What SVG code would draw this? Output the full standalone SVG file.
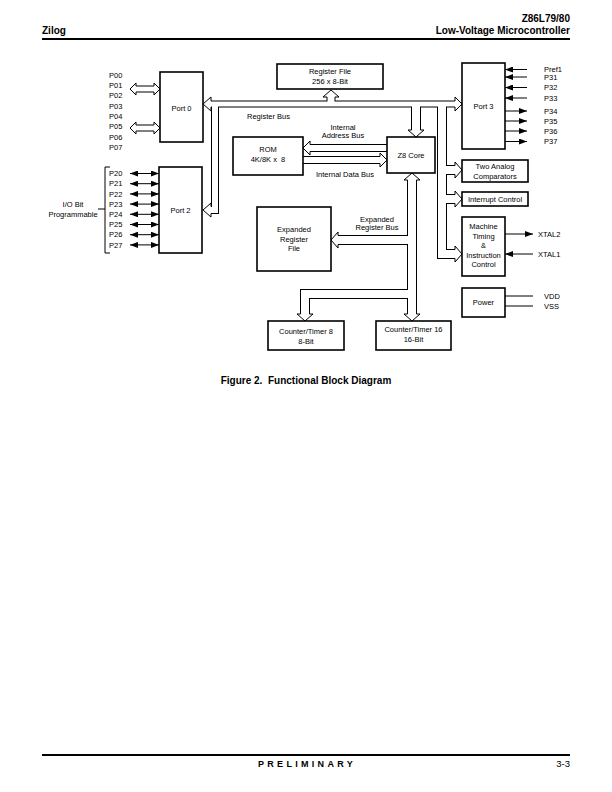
<svg xmlns="http://www.w3.org/2000/svg" width="612" height="792" viewBox="0 0 612 792">
<style>
.t{font-family:"Liberation Sans",Arial,sans-serif;font-size:7.5px;fill:#000}
.m{text-anchor:middle}
.hb{font-family:"Liberation Sans",Arial,sans-serif;font-weight:bold;fill:#000}
.box{fill:#fff;stroke:#000;stroke-width:1.6}
.bk{fill:none;stroke:#000;stroke-linecap:butt;stroke-linejoin:miter}
.wh{fill:none;stroke:#fff;stroke-linecap:butt;stroke-linejoin:miter}
.hd{fill:#fff;stroke:#000;stroke-width:1;stroke-linejoin:miter}
.ln{fill:none;stroke:#000;stroke-width:1}
.ah{fill:#000}
</style>
<defs>
<marker id="fa" viewBox="0 0 8 6" refX="8" refY="3" markerWidth="8" markerHeight="6" markerUnits="userSpaceOnUse" orient="auto-start-reverse"><path d="M0,0 L8,3 L0,6 Z" class="ah"/></marker>
</defs>

<!-- header / footer -->
<g id="header">
<text class="hb" x="42" y="34" font-size="10">Zilog</text>
<text class="hb" x="570" y="22" font-size="10" text-anchor="end">Z86L79/80</text>
<text class="hb" x="570" y="34" font-size="10" text-anchor="end">Low-Voltage Microcontroller</text>
<line x1="42" y1="39" x2="570" y2="39" stroke="#000" stroke-width="2"/>
</g>
<g id="footer">
<line x1="42" y1="755" x2="570" y2="755" stroke="#000" stroke-width="2"/>
<text class="hb" x="258" y="767" font-size="9" letter-spacing="3.3">PRELIMINARY</text>
<text x="570" y="767" style="font-family:'Liberation Sans',Arial,sans-serif;font-size:9.5px;fill:#000" text-anchor="end">3-3</text>
</g>
<text class="hb" x="306" y="384" font-size="10" text-anchor="middle">Figure 2.&#160; Functional Block Diagram</text>

<!-- connectors -->
<g id="connectors">
<g class="bk">
<path d="M211,104 H455" stroke-width="7"/>
<path d="M215,104 V210 H211" stroke-width="8"/>
<path d="M331,104 V97" stroke-width="9"/>
<path d="M416,104 V130" stroke-width="10"/>
<path d="M442,104 V254 H455" stroke-width="10"/>
<path d="M442,170 H455" stroke-width="10"/>
<path d="M442,199 H455" stroke-width="10"/>
<path d="M412,180 V314" stroke-width="10"/>
<path d="M412,240 H338" stroke-width="10"/>
<path d="M412,294 H305 V314" stroke-width="10"/>
<path d="M387,148 H310" stroke-width="8"/>
<path d="M303,160 H380" stroke-width="8"/>
<path d="M136,89 H154" stroke-width="7"/>
<path d="M136,128 H154" stroke-width="7"/>
</g>
<g class="wh">
<path d="M211,104 H455" stroke-width="5"/>
<path d="M215,104 V210 H211" stroke-width="6"/>
<path d="M331,104 V97" stroke-width="7"/>
<path d="M416,104 V130" stroke-width="8"/>
<path d="M442,104 V254 H455" stroke-width="8"/>
<path d="M442,170 H455" stroke-width="8"/>
<path d="M442,199 H455" stroke-width="8"/>
<path d="M412,180 V314" stroke-width="8"/>
<path d="M412,240 H338" stroke-width="8"/>
<path d="M412,294 H305 V314" stroke-width="8"/>
<path d="M387,148 H310" stroke-width="6"/>
<path d="M303,160 H380" stroke-width="6"/>
<path d="M136,89 H154" stroke-width="5"/>
<path d="M136,128 H154" stroke-width="5"/>
</g>
<g class="hd">
<polyline points="211,101 211,97 203,104 211,111 211,107"/>
<polyline points="455,101 455,97 462,104 455,111 455,107"/>
<polyline points="211,206.5 211,203 203,210 211,217 211,213.5"/>
<polyline points="327,97 323,97 331,90 339,97 335,97"/>
<polyline points="411.5,130 408,130 416,137 424,130 420.5,130"/>
<polyline points="455,165.5 455,162 462,170 455,178 455,174.5"/>
<polyline points="455,194.5 455,191 462,199 455,207 455,203.5"/>
<polyline points="455,249.5 455,246 462,254 455,262 455,258.5"/>
<polyline points="407.5,180 404,180 412,173 420,180 416.5,180"/>
<polyline points="407.5,314 404,314 412,321 420,314 416.5,314"/>
<polyline points="338,235.5 338,232 331,240 338,248 338,244.5"/>
<polyline points="300.5,314 297,314 305,321 313,314 309.5,314"/>
<polyline points="310,144.5 310,141 303,148 310,155 310,151.5"/>
<polyline points="380,156.5 380,153 387,160 380,167 380,163.5"/>
<polyline points="136,86 136,83 130,89 136,95 136,92"/>
<polyline points="154,86 154,83 160,89 154,95 154,92"/>
<polyline points="136,125 136,122 130,128 136,134 136,131"/>
<polyline points="154,125 154,122 160,128 154,134 154,131"/>
</g>
<!-- port 2 pin arrows -->
<g class="ln" marker-start="url(#fa)" marker-end="url(#fa)">
<line x1="130" y1="173.5" x2="159" y2="173.5"/>
<line x1="130" y1="183.7" x2="159" y2="183.7"/>
<line x1="130" y1="193.9" x2="159" y2="193.9"/>
<line x1="130" y1="204.1" x2="159" y2="204.1"/>
<line x1="130" y1="214.3" x2="159" y2="214.3"/>
<line x1="130" y1="224.5" x2="159" y2="224.5"/>
<line x1="130" y1="234.7" x2="159" y2="234.7"/>
<line x1="130" y1="244.9" x2="159" y2="244.9"/>
</g>
<!-- port 3 pins -->
<g class="ln" marker-end="url(#fa)">
<line x1="527" y1="69.5" x2="505" y2="69.5"/>
<line x1="527" y1="77" x2="505" y2="77"/>
<line x1="527" y1="87.5" x2="505" y2="87.5"/>
<line x1="527" y1="98" x2="505" y2="98"/>
<line x1="505" y1="111" x2="527" y2="111"/>
<line x1="505" y1="121" x2="527" y2="121"/>
<line x1="505" y1="131" x2="527" y2="131"/>
<line x1="505" y1="141.5" x2="527" y2="141.5"/>
<line x1="505" y1="234" x2="533" y2="234"/>
<line x1="533" y1="254" x2="505" y2="254"/>
</g>
<g class="ln">
<line x1="505" y1="296" x2="533" y2="296"/>
<line x1="505" y1="306" x2="533" y2="306"/>
<path d="M110,167 H105 V253 H110 M98,209 H105"/>
</g>
</g>

<!-- nodes -->
<g id="port0">
<rect class="box" x="160" y="72" width="43" height="70"/>
<text class="t m" x="181.5" y="110.5">Port 0</text>
<g class="t">
<text x="109" y="77.7">P00</text><text x="109" y="88">P01</text><text x="109" y="98.3">P02</text><text x="109" y="108.6">P03</text>
<text x="109" y="118.9">P04</text><text x="109" y="129.2">P05</text><text x="109" y="139.5">P06</text><text x="109" y="149.8">P07</text>
</g>
</g>
<g id="port2">
<rect class="box" x="159" y="167" width="43" height="86"/>
<text class="t m" x="180.5" y="212.5">Port 2</text>
<g class="t">
<text x="109" y="176.2">P20</text><text x="109" y="186.4">P21</text><text x="109" y="196.6">P22</text><text x="109" y="206.8">P23</text>
<text x="109" y="217">P24</text><text x="109" y="227.2">P25</text><text x="109" y="237.4">P26</text><text x="109" y="247.6">P27</text>
</g>
<text class="t m" x="73" y="206.5">I/O Bit</text>
<text class="t m" x="73" y="217">Programmable</text>
</g>
<g id="regfile">
<rect class="box" x="277" y="64" width="106" height="25"/>
<text class="t m" x="330" y="73.5">Register File</text>
<text class="t m" x="330" y="83.5">256 x 8-Bit</text>
</g>
<g id="port3">
<rect class="box" x="462" y="63" width="43" height="86"/>
<text class="t m" x="483.5" y="108.5">Port 3</text>
<g class="t">
<text x="544" y="72">Pref1</text><text x="544" y="79.5">P31</text><text x="544" y="90">P32</text><text x="544" y="100.5">P33</text>
<text x="544" y="113.5">P34</text><text x="544" y="123.5">P35</text><text x="544" y="133.5">P36</text><text x="544" y="144">P37</text>
</g>
</g>
<g id="labels">
<text class="t" x="247" y="118.5">Register Bus</text>
<text class="t m" x="343" y="129.5">Internal</text>
<text class="t m" x="343" y="137.5">Address Bus</text>
<text class="t m" x="345" y="177">Internal Data Bus</text>
<text class="t m" x="377" y="221.5">Expanded</text>
<text class="t m" x="377" y="229.5">Register Bus</text>
</g>
<g id="rom">
<rect class="box" x="233" y="137" width="70" height="38"/>
<text class="t m" x="268" y="151.5">ROM</text>
<text class="t m" x="268" y="161.5" xml:space="preserve">4K/8K x  8</text>
</g>
<g id="z8core">
<rect class="box" x="387" y="137" width="48" height="36"/>
<text class="t m" x="411" y="157.5">Z8 Core</text>
</g>
<g id="expreg">
<rect class="box" x="257" y="207" width="74" height="64"/>
<text class="t m" x="294" y="231.5">Expanded</text>
<text class="t m" x="294" y="241.5">Register</text>
<text class="t m" x="294" y="251">File</text>
</g>
<g id="ct8">
<rect class="box" x="268" y="321" width="76" height="29"/>
<text class="t m" x="306" y="333.5">Counter/Timer 8</text>
<text class="t m" x="306" y="343.5">8-Bit</text>
</g>
<g id="ct16">
<rect class="box" x="376" y="321" width="75" height="29"/>
<text class="t m" x="413.5" y="331.5">Counter/Timer 16</text>
<text class="t m" x="413.5" y="341.5">16-Bit</text>
</g>
<g id="comparators">
<rect class="box" x="462" y="160" width="66" height="22"/>
<text class="t m" x="495" y="168.5">Two Analog</text>
<text class="t m" x="495" y="178.5">Comparators</text>
</g>
<g id="interrupt">
<rect class="box" x="462" y="192" width="66" height="14"/>
<text class="t m" x="495" y="201.5">Interrupt Control</text>
</g>
<g id="timing">
<rect class="box" x="462" y="217" width="43" height="59"/>
<text class="t m" x="483.5" y="229">Machine</text>
<text class="t m" x="483.5" y="238.5">Timing</text>
<text class="t m" x="483.5" y="248">&amp;</text>
<text class="t m" x="483.5" y="257.5">Instruction</text>
<text class="t m" x="483.5" y="267">Control</text>
<text class="t" x="538" y="236.5">XTAL2</text>
<text class="t" x="538" y="256.5">XTAL1</text>
</g>
<g id="power">
<rect class="box" x="462" y="288" width="43" height="29"/>
<text class="t m" x="483.5" y="305">Power</text>
<text class="t" x="544" y="298.5">VDD</text>
<text class="t" x="544" y="308.5">VSS</text>
</g>
</svg>
